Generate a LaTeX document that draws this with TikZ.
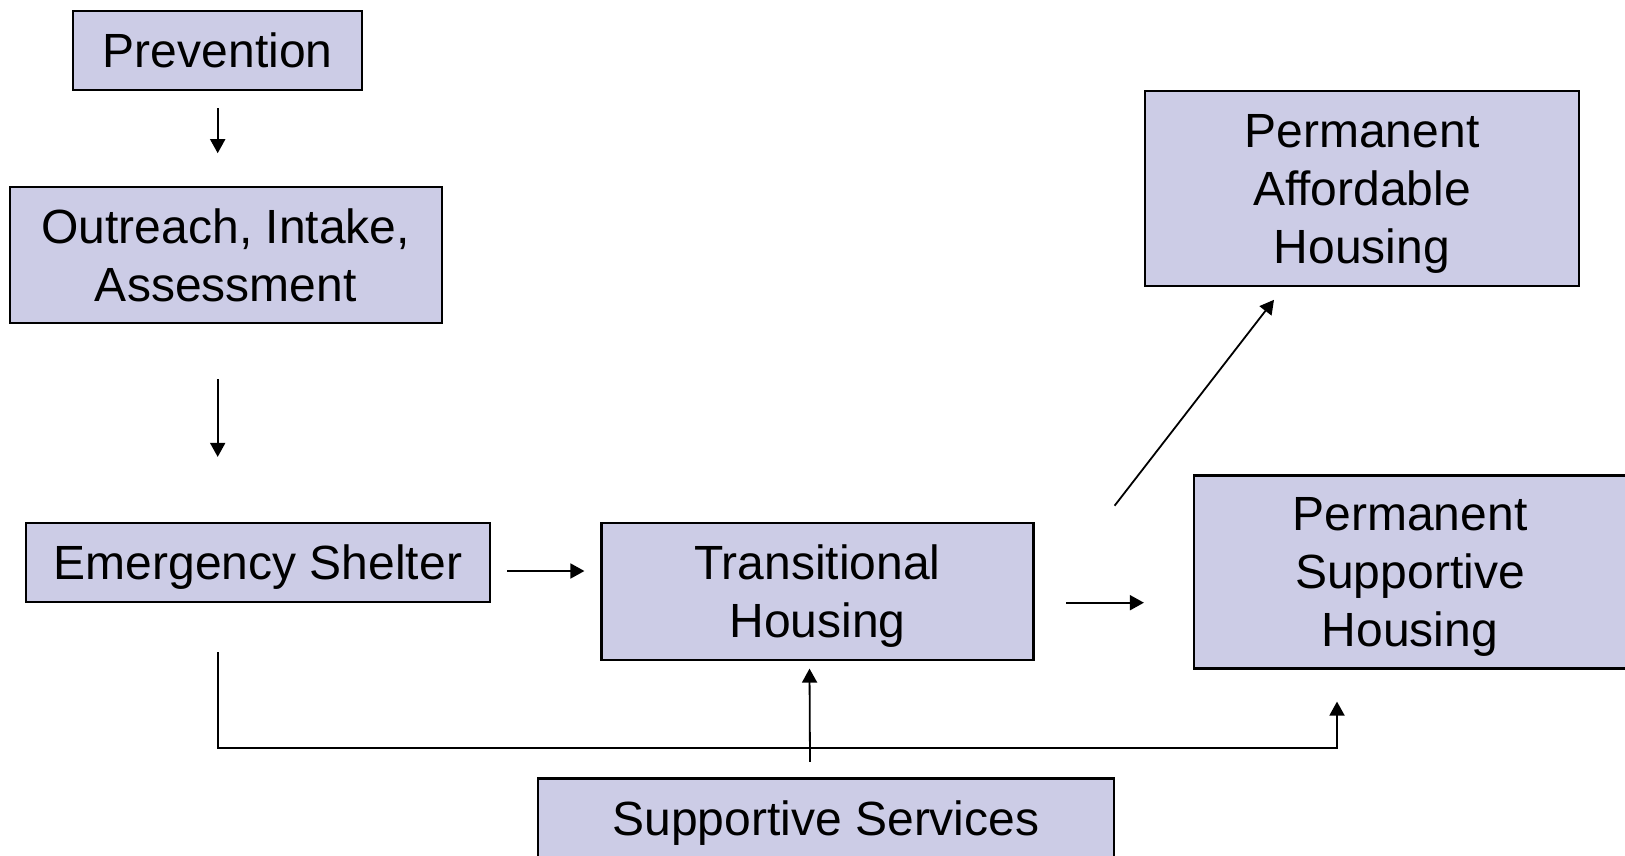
\documentclass[tikz,border=0pt]{standalone}
\usepackage{fontspec}
\setmainfont{Liberation Sans}
\usepackage{xcolor}
\usepackage{tikz}
\usetikzlibrary{arrows.meta}
\definecolor{boxfill}{RGB}{204,204,230}

\begin{document}
\begin{tikzpicture}[x=1pt, y=-1pt,
	box/.style={draw, line width=2.2pt, fill=boxfill, inner sep=0pt, text depth=0pt, align=center, font=\fontsize{48}{58}\selectfont},
	arr/.style={line width=1.8pt, -{Triangle[length=14pt, width=15pt]}}]
	\useasboundingbox (0,0) rectangle (1625,856);

	\node[box, minimum width=289pt, minimum height=79pt] (prev) at (217.7,50.5) {Prevention};
	\node[box, minimum width=432pt, minimum height=136pt] (outreach) at (225.7,255.3) {Outreach, Intake,\\Assessment};
	\node[box, minimum width=464pt, minimum height=79pt] (shelter) at (258,562.5) {Emergency Shelter};
	\node[box, minimum width=432pt, minimum height=137pt] (trans) at (817.5,591.3) {Transitional\\Housing};
	\node[box, minimum width=434pt, minimum height=195pt] (pah) at (1362,188.7) {Permanent\\Affordable\\Housing};
	\node[box, minimum width=432pt, minimum height=193pt] (psh) at (1410,572) {Permanent\\Supportive\\Housing};
	\node[box, minimum width=576pt, minimum height=79pt] (ss) at (826,818) {Supportive Services};

	\draw[arr] ([yshift=-17pt]prev.south) -- ([yshift=33pt]prev.south |- outreach.north);
	\draw[arr] ([yshift=-55pt]prev.south |- outreach.south) -- ([yshift=65pt]prev.south |- shelter.north);
	\draw[arr] ([shift={(16pt,-8.5pt)}]shelter.east) -- ([shift={(-16pt,-8.5pt)}]shelter.east -| trans.west);
	\draw[arr] ([shift={(31.5pt,-11.4pt)}]trans.east) -- ([shift={(-49pt,-11.4pt)}]trans.east -| psh.west);
	\draw[arr] ([shift={(80pt,16pt)}]trans.north east) -- ([shift={(-88pt,-12.5pt)}]pah.south);
	\draw[arr] ([yshift=-49pt]prev.south |- shelter.south) |- ([shift={(-73pt,-78pt)}]psh.south) -- ([shift={(-73pt,-32pt)}]psh.south);
	\draw[arr] ([shift={(-16pt,15.5pt)}]ss.north) -- ([shift={(-8pt,-7.7pt)}]trans.south);
\end{tikzpicture}
\end{document}
